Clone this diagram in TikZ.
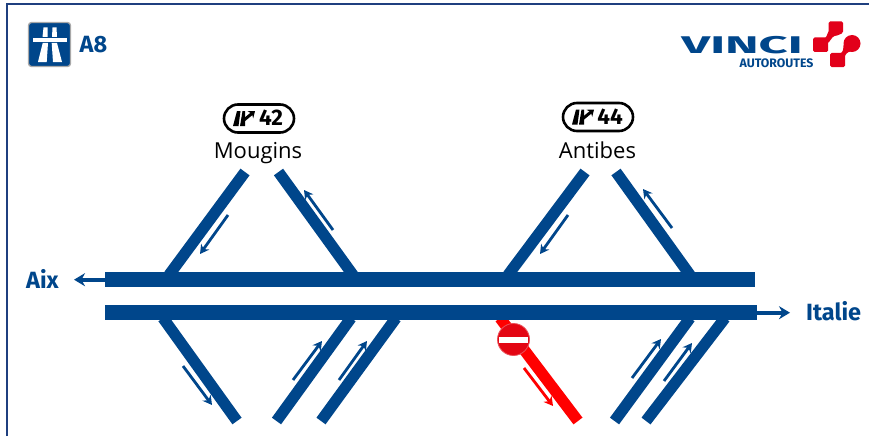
\documentclass[tikz,border=0pt]{standalone}
\usepackage{fontspec}
\setmainfont{Open Sans}
\newfontfamily\signfont{Fira Sans}
\usetikzlibrary{arrows.meta}
\definecolor{roadblue}{HTML}{00468B}
\definecolor{framenavy}{HTML}{1F3F7F}
\definecolor{ramped}{HTML}{FF0000}
\definecolor{signred}{HTML}{E30613}
\definecolor{vincired}{HTML}{E2001A}
\definecolor{signgrey}{HTML}{A8A8A8}
\tikzset{
  road/.style={line width=14.5pt,color=roadblue},
  ramp/.style={line width=11.3pt,color=roadblue},
  redramp/.style={line width=11.3pt,color=ramped},
  flow/.style={line width=2.8pt,color=roadblue,-{Stealth[length=9pt,width=10pt]}},
  redflow/.style={flow,color=ramped},
  tail/.style={line width=4pt,color=roadblue,-{Stealth[length=11pt,width=13pt]}},
  dirlabel/.style={font=\signfont\bfseries\fontsize{23.5}{24}\selectfont,text=roadblue,inner sep=0pt},
  place/.style={font=\fontsize{22}{24}\selectfont,text=black,inner sep=0pt},
  pill/.style={draw=black,line width=2.6pt,rounded corners=14pt,minimum width=70pt,minimum height=28pt,inner sep=0pt,fill=white},
  pilltext/.style={font=\signfont\bfseries\fontsize{22.5}{24}\selectfont,inner sep=0pt},
  exitglyph/.pic={
    \fill[black] (-7,-7.5)--(-3.5,-7.5)--(-5.5,7.5)--(-11,7.5)--cycle;
    \fill[black] (-1.5,-7.5)--(1,-7.5)--(1,7.5)--(-4,7.5)--cycle;
    \draw[black,line width=3pt,-{Stealth[length=6pt,width=9pt]}] (0,1.5)--(11,-7.5);
  }
}
\begin{document}
\begin{tikzpicture}[x=1pt,y=-1pt]
\useasboundingbox (0,0) rectangle (869,436);
\fill[white] (0,0) rectangle (869,436);
% frame
\draw[framenavy,line width=2pt] (7,436)--(7,4.5)--(869,4.5);

\coordinate (m1a) at (245,172); \coordinate (m1b) at (169,275);
\coordinate (m2a) at (278.5,172); \coordinate (m2b) at (353,275);
\coordinate (m3a) at (585,172); \coordinate (m3b) at (508,275);
\coordinate (m4a) at (616,172); \coordinate (m4b) at (690,275);
\coordinate (s1a) at (163,318); \coordinate (s1b) at (237,421);
\coordinate (s2a) at (351,318); \coordinate (s2b) at (276.5,421);
\coordinate (s3a) at (396,318); \coordinate (s3b) at (321,421);
\coordinate (s4a) at (500,318); \coordinate (s4b) at (578,421);
\coordinate (s5a) at (690,318); \coordinate (s5b) at (614.5,421);
\coordinate (s6a) at (725,318); \coordinate (s6b) at (646,421);

\draw[ramp] (m1a)--(m1b);
\draw[ramp] (m2a)--(m2b);
\draw[ramp] (m3a)--(m3b);
\draw[ramp] (m4a)--(m4b);
\draw[ramp] (s1a)--(s1b);
\draw[ramp] (s2a)--(s2b);
\draw[ramp] (s3a)--(s3b);
\draw[redramp] (s4a)--(s4b);
\draw[ramp] (s5a)--(s5b);
\draw[ramp] (s6a)--(s6b);

% carriageways
\coordinate (n1) at (105,279.7); \coordinate (n2) at (755,279.7);
\coordinate (c1) at (105,312.7); \coordinate (c2) at (757,312.7);
\draw[road] (n1)--(n2);
\draw[road] (c1)--(c2);

% direction tails
\node[dirlabel] (aix) at (42.5,279) {Aix};
\node[dirlabel,anchor=west] (italie) at (806,311) {Italie};
\draw[tail] (n1)--(74,279.7);
\draw[tail] (c2)--(790,312.7);

% flow arrows
\draw[flow] (228,215)--(200,254);
\draw[flow] (333,230)--(304,190);
\draw[flow] (568,215)--(540,254);
\draw[flow] (672,228)--(643,189);
\draw[flow] (183,366)--(212,405);
\draw[flow] (293,380)--(322,341);
\draw[flow] (339,380)--(367,341);
\draw[redflow] (524,368)--(553,406);
\draw[flow] (632,378)--(661,339);
\draw[flow] (664,381)--(692,343);

% no entry sign
\node[circle,fill=signred,draw=signred!70!white,line width=.8pt,minimum size=32pt,inner sep=0pt] (noentry) at (513.5,339.5) {};
\fill[white] (499,336.5) rectangle (528,343);

% exit labels
\node[pill] (p42) at (259,118.5) {};
\pic at (244,118.5) {exitglyph};
\node[pilltext] (t42) at (271,118) {42};
\node[place] (mougins) at (258,153) {Mougins};
\node[pill] (p44) at (598,117) {};
\pic at (583,117) {exitglyph};
\node[pilltext] (t44) at (610,116.5) {44};
\node[place] (antibes) at (597.5,150) {Antibes};

% motorway sign
\draw[signgrey,fill=roadblue,line width=1.3pt,rounded corners=3pt] (28.5,22.5) rectangle (70.5,66.5);
\fill[white] (43.5,27.5)--(47.5,27.5)--(47.5,37)--(42.5,37)--cycle;
\fill[white] (52.5,27.5)--(56.5,27.5)--(57,37)--(52,37)--cycle;
\fill[white] (32.5,38)--(66.5,38)--(66.5,42)--(32.5,42)--cycle;
\fill[white] (42.7,43)--(48,43)--(46.7,62)--(38,62)--cycle;
\fill[white] (51.7,43)--(57,43)--(62,62)--(53,62)--cycle;
\node[font=\signfont\bfseries\fontsize{23.5}{24}\selectfont,text=roadblue,inner sep=0pt] (a8) at (93.5,45) {A8};

% VINCI logo
\node[inner sep=0pt,text=roadblue] (vinci) at (742,45) {\scalebox{2.2}[1.05]{\signfont\bfseries\fontsize{23}{23}\selectfont VINCI}};
\node[inner sep=0pt,text=roadblue,font=\signfont\bfseries\fontsize{12.3}{13}\selectfont] (auto) at (776.5,63.5) {AUTOROUTES};
\fill[vincired,rounded corners=1.5pt] (813,37.5) -- (824,37.5) to[out=0,in=90] (828.5,33) -- (828.5,21.5) -- (843,21.5) -- (843,33) -- (836,36) to[out=180,in=-90] (828,41) -- (828,52) -- (813,52) -- cycle;
\fill[vincired,rounded corners=1.5pt] (830,53) -- (839,53) to[out=0,in=-90] (843.5,44) -- (852,44) -- (852,51.5) to[out=180,in=90] (845,58) -- (845,67) -- (830,67) -- cycle;
\fill[vincired] (852,43.5) circle (8.5);
\end{tikzpicture}
\end{document}
